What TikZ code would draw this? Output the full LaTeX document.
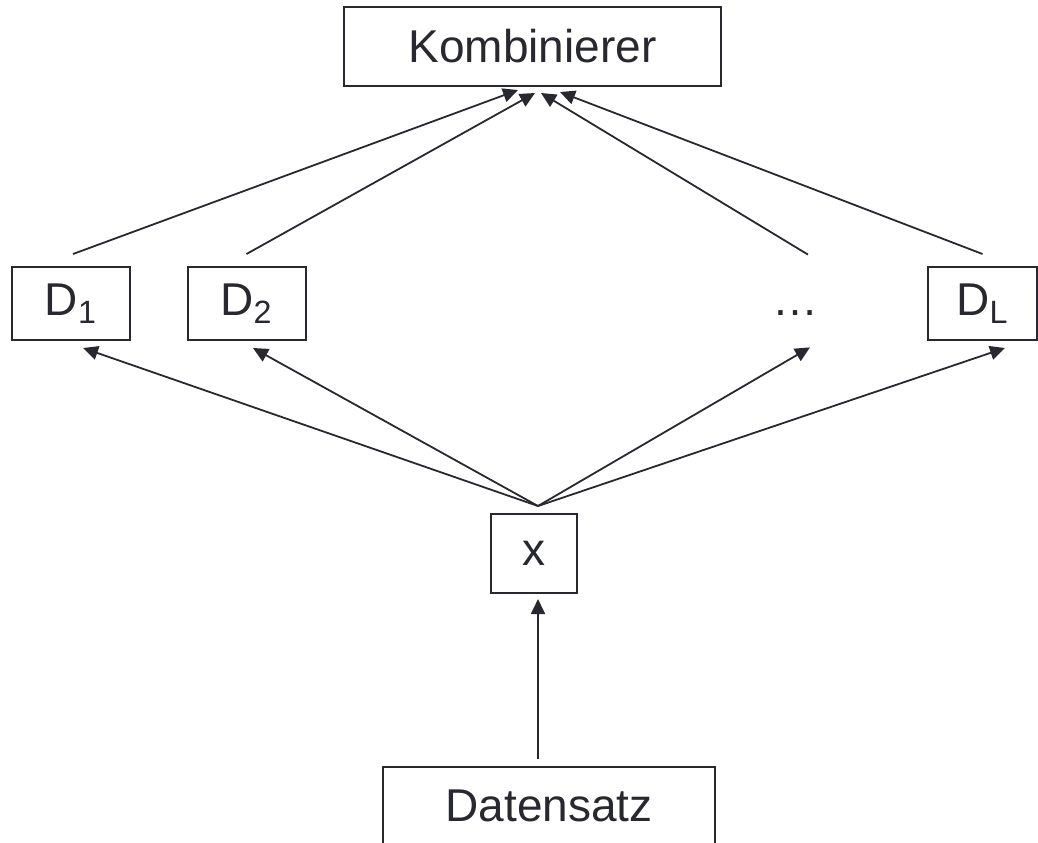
\documentclass[tikz,border=0pt]{standalone}
\usepackage{fontspec}
\setmainfont{Liberation Sans}
\usepackage{tikz}
\usetikzlibrary{arrows.meta}
\usetikzlibrary{positioning}
\definecolor{ink}{RGB}{40,40,48}
\tikzstyle{box} = [rectangle, minimum width=59pt, minimum height=36.5pt, inner sep=0pt, text centered, draw=ink, line width=1pt, text=ink]
\tikzstyle{hidden} = [rectangle, minimum width=59pt, minimum height=36.5pt, inner sep=0pt, text centered, text=ink]
\tikzstyle{arrow} = [line width=0.9pt, draw=ink, -{Triangle[length=7.5pt,width=7pt]}]

\begin{document}
\begin{tikzpicture}[x=0.5pt, y=-0.5pt, node distance=128.5pt, font=\fontsize{23}{27}\selectfont]

\useasboundingbox (0,0) rectangle (1038,842);

\node (komb) [box, minimum width=188.5pt, minimum height=39.5pt] at (532.5,46.5) {Kombinierer};

\node (d1) [box, below of=komb, xshift=-230.75pt] {D\textsubscript{1}};

\node (d2) [box, right of=d1, xshift=-40.75pt] {D\textsubscript{2}};

\node (dots) [hidden, below of=komb, xshift=131.25pt] {\vphantom{D\textsubscript{1}}…};

\node (dl) [box, below of=komb, xshift=225pt, minimum width=54.5pt] {D\textsubscript{L}};

\node (x) [box, below of=komb, yshift=-125pt, xshift=0.75pt, minimum width=43pt, minimum height=39.5pt] {x};

\node (data) [box, below of=x, yshift=2.5pt, xshift=7.5pt, minimum width=166pt, minimum height=38.5pt] {Datensatz};


\draw [arrow] ([xshift=1pt,yshift=6pt]d1.north) -- ([xshift=-7.25pt,yshift=-1.5pt]komb.south);
\draw [arrow] ([yshift=6pt]d2.north) -- ([xshift=1.25pt,yshift=-3pt]komb.south);
\draw [arrow] ([xshift=6.5pt,yshift=6pt]dots.north) -- ([xshift=4.25pt,yshift=-3pt]komb.south);
\draw [arrow] ([yshift=6pt]dl.north) -- ([xshift=13.75pt,yshift=-2.5pt]komb.south);

\draw [arrow] ([xshift=2pt,yshift=3.5pt]x.north) -- ([xshift=6pt,yshift=-3.5pt]d1.south);
\draw [arrow] ([xshift=2pt,yshift=3.5pt]x.north) -- ([xshift=3.25pt,yshift=-3.5pt]d2.south);
\draw [arrow] ([xshift=2pt,yshift=3.5pt]x.north) -- ([xshift=7.5pt,yshift=-3.5pt]dots.south);
\draw [arrow] ([xshift=2pt,yshift=3.5pt]x.north) -- ([xshift=11.25pt,yshift=-3.5pt]dl.south);

\draw [arrow] ([xshift=-5.5pt,yshift=3.5pt]data.north) -- ([xshift=2pt,yshift=-2.5pt]x.south);

\end{tikzpicture}
\end{document}
